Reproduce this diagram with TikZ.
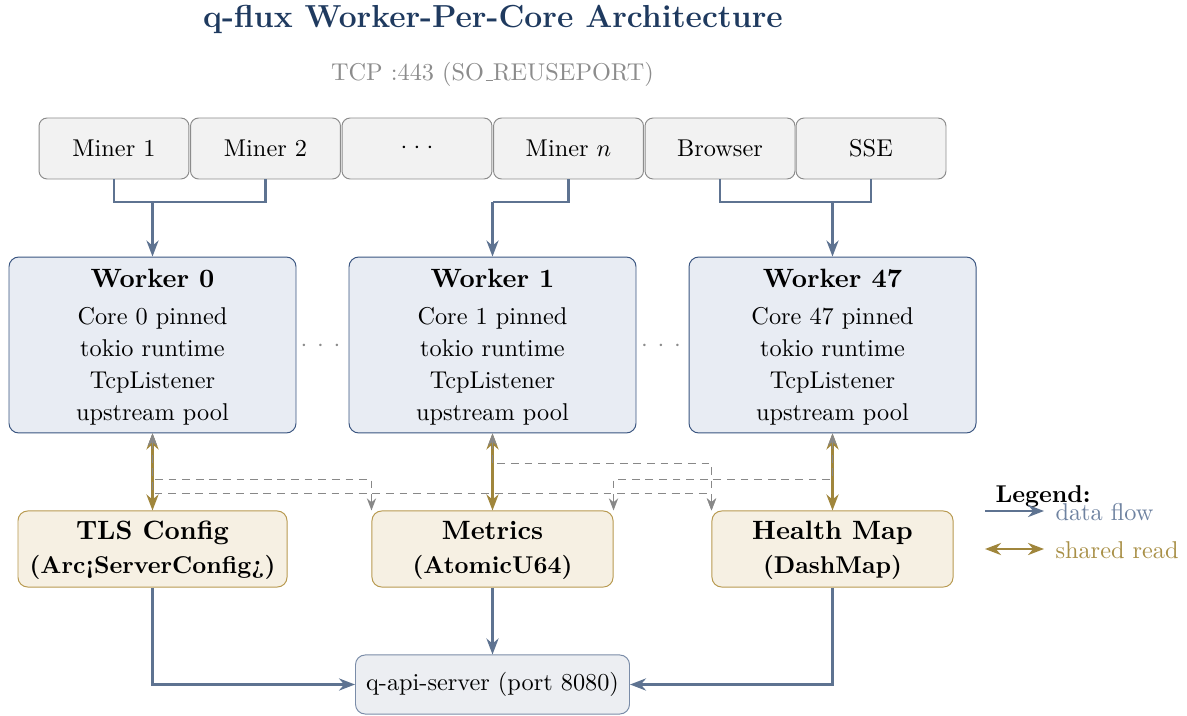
\documentclass[tikz,border=0pt]{standalone}
\usetikzlibrary{arrows.meta}
\definecolor{titlec}{RGB}{31,58,95}
\definecolor{subgray}{RGB}{140,140,140}
\definecolor{minerfill}{RGB}{242,242,242}
\definecolor{minerdraw}{RGB}{140,140,140}
\definecolor{workerfill}{RGB}{232,236,243}
\definecolor{workerdraw}{RGB}{58,85,128}
\definecolor{sharedfill}{RGB}{246,240,227}
\definecolor{shareddraw}{RGB}{184,154,80}
\definecolor{goldc}{RGB}{160,134,60}
\definecolor{flowc}{RGB}{94,115,145}
\definecolor{apifill}{RGB}{236,238,242}
\definecolor{apidraw}{RGB}{122,140,168}
\definecolor{dashc}{RGB}{136,136,136}
\definecolor{flowtext}{RGB}{110,130,160}
\definecolor{goldtext}{RGB}{168,143,70}
\newcommand{\hdr}[1]{{\fontsize{10.9}{13}\selectfont\bfseries\rule{0pt}{9.6pt}#1}}
\newcommand{\shdr}[1]{{\fontsize{10.9}{13}\selectfont\rule{0pt}{8.6pt}#1}}
\begin{document}
\begin{tikzpicture}[x=0.4115pt,y=-0.4115pt,
  font=\fontsize{10}{12}\selectfont,
  tip/.style={},
  minerbox/.style={draw=minerdraw, fill=minerfill, rounded corners=3.3pt, minimum width=61.7pt, minimum height=25.1pt, inner sep=0pt},
  workerbox/.style={draw=workerdraw, fill=workerfill, rounded corners=4pt, minimum width=118.1pt, minimum height=72.4pt, inner sep=0pt, align=center, font=\fontsize{10}{13.2}\selectfont},
  sharedbox/.style={draw=shareddraw, fill=sharedfill, rounded corners=4pt, minimum height=31.3pt, inner sep=0pt, align=center, font=\fontsize{10}{14}\selectfont\bfseries},
  apibox/.style={draw=apidraw, fill=apifill, rounded corners=4pt, minimum width=112.75pt, minimum height=24.3pt, inner sep=0pt},
  txt/.style={inner sep=0pt},
  flowline/.style={draw=flowc, line width=1pt},
  flow/.style={draw=flowc, line width=1pt, -{Stealth[length=6.6pt,width=5pt]}},
  sharedlink/.style={draw=goldc, line width=1pt, {Stealth[length=6.6pt,width=5pt]}-{Stealth[length=6.6pt,width=5pt]}},
  dashlink/.style={draw=dashc, line width=0.55pt, dash pattern=on 3.2pt off 2.4pt, {Stealth[length=5pt,width=3.8pt]}-{Stealth[length=5pt,width=3.8pt]}},
  dotsnode/.style={inner sep=0pt, text=subgray}
]
\useasboundingbox (0,0) rectangle (1187,715);

% title
\node[txt, anchor=base, font=\fontsize{13.1}{15}\selectfont\bfseries, text=titlec] (title) at (493,28) {q-flux Worker-Per-Core Architecture};
\node[txt, anchor=base, text=subgray] (sub) at (492.5,81) {TCP :443 (SO\kern.06em\vbox{\hrule width.3em}REUSEPORT)};

% clients
\node[minerbox] (m1) at (114,148.5) {Miner 1};
\node[minerbox] (m2) at (265.5,148.5) {Miner 2};
\node[minerbox] (m3) at (417,148.5) {$\cdot$\hspace{2.6pt}$\cdot$\hspace{2.6pt}$\cdot$};
\node[minerbox] (mn) at (568.5,148.5) {Miner $n$};
\node[minerbox] (br) at (720,148.5) {Browser};
\node[minerbox] (sse) at (871,148.5) {SSE};

% workers
\node[workerbox] (w0) at (152.5,345) {\hdr{Worker 0}\\[2pt] Core 0 pinned\\ tokio runtime\\ TcpListener\\ upstream pool};
\node[workerbox] (w1) at (492.5,345) {\hdr{Worker 1}\\[2pt] Core 1 pinned\\ tokio runtime\\ TcpListener\\ upstream pool};
\node[workerbox] (w47) at (832.5,345) {\hdr{Worker 47}\\[2pt] Core 47 pinned\\ tokio runtime\\ TcpListener\\ upstream pool};
\node[dotsnode] (d1) at (320.5,346) {$\cdot$\hspace{4pt}$\cdot$\hspace{4pt}$\cdot$};
\node[dotsnode] (d2) at (661,346) {$\cdot$\hspace{4pt}$\cdot$\hspace{4pt}$\cdot$};

% shared state
\node[sharedbox, minimum width=110.7pt] (tls) at (152.5,549) {\shdr{TLS Config}\\ (Arc¡ServerConfig¿)};
\node[sharedbox, minimum width=99.2pt] (met) at (492.5,549) {\shdr{Metrics}\\ (AtomicU64)};
\node[sharedbox, minimum width=99.2pt] (hm) at (832.5,549) {\shdr{Health Map}\\ (DashMap)};

% api
\node[apibox] (api) at (492.5,684.5) {q-api-server (port 8080)};

% client -> worker
\coordinate (j0) at (152.5,202);
\coordinate (j1) at (492.5,202);
\coordinate (j2) at (832.5,202);
\draw[flowline] (m1.south) |- (j0) -| (m2.south);
\draw[flow] (j0) -- (w0.north);
\draw[flowline] (mn.south) |- (j1);
\draw[flow] (j1) -- (w1.north);
\draw[flowline] (br.south) |- (j2) -| (sse.south);
\draw[flow] (j2) -- (w47.north);

% shared reads
\draw[sharedlink] (w0.south) -- (tls.north);
\draw[sharedlink] (w1.south) -- (met.north);
\draw[sharedlink] (w47.south) -- (hm.north);

% cross reads
\draw[dashlink] (w0.south) -- ++(0,46) -| (met.north west);
\draw[dashlink] (w0.south) -- ++(0,60) -| (hm.north west);
\draw[dashlink] (w1.south) -- ++(0,30) -| (hm.north west);
\draw[dashlink] (w47.south) -- ++(0,46) -| (met.north east);

% to api
\draw[flow] (tls.south) |- (api.west);
\draw[flow] (met.south) -- (api.north);
\draw[flow] (hm.south) |- (api.east);

% legend
\node[txt, anchor=base west, font=\fontsize{10}{12}\selectfont\bfseries] (legt) at (995,502) {Legend:};
\coordinate (la1) at (985,511);
\coordinate (lb1) at (1044,511);
\draw[flow] (la1) -- (lb1);
\node[txt, anchor=base west, text=flowtext] (lt1) at (1055,520) {data flow};
\coordinate (la2) at (985,549);
\coordinate (lb2) at (1044,549);
\draw[sharedlink] (la2) -- (lb2);
\node[txt, anchor=base west, text=goldtext] (lt2) at (1055,558) {shared read};
\end{tikzpicture}
\end{document}
